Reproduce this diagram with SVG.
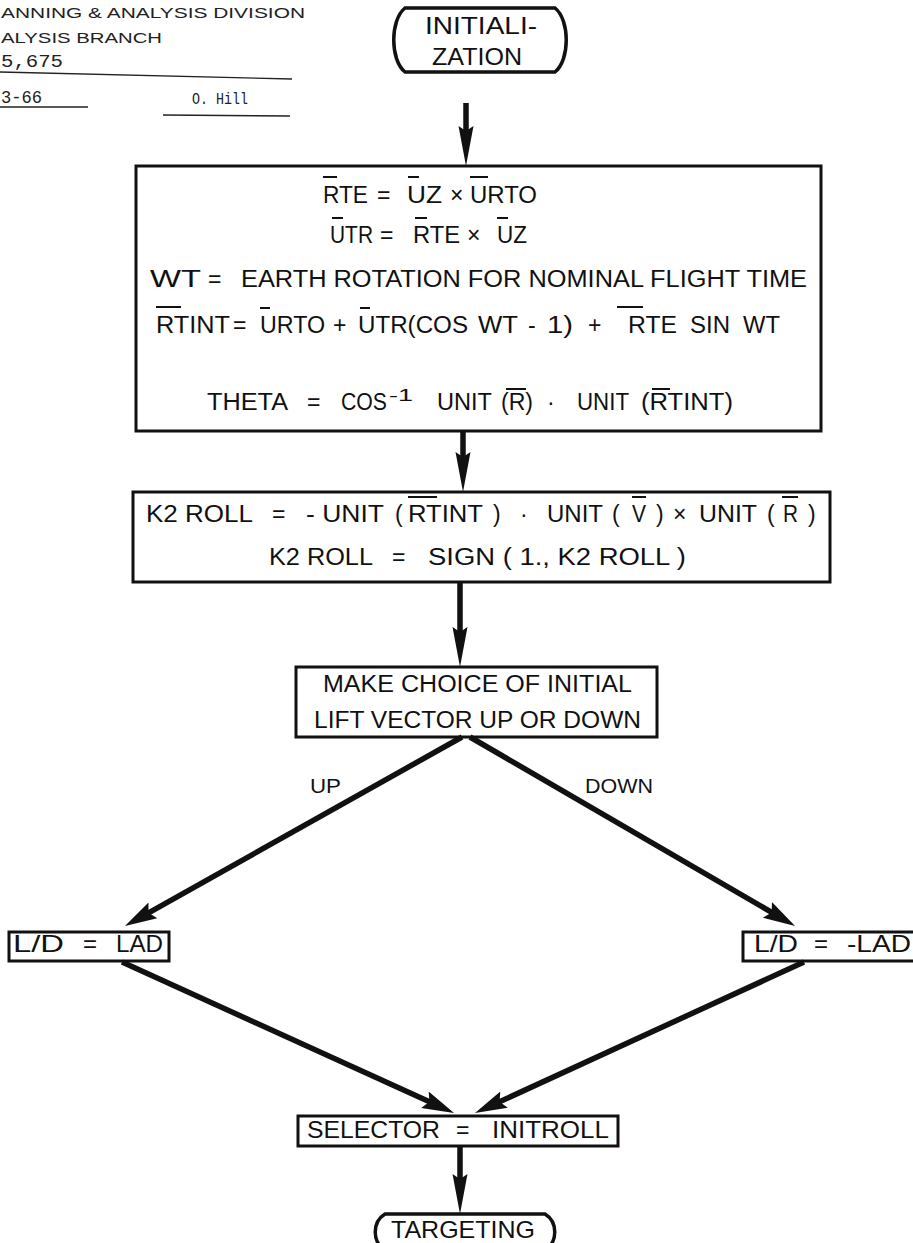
<svg xmlns="http://www.w3.org/2000/svg" width="913" height="1243" viewBox="0 0 913 1243">
<style>
  .t { font-family: "Liberation Sans", Arial, sans-serif; font-size: 23px; fill: #111; }
  .s { font-size: 17px; }
  .big { font-size: 24px; }
  .hd { font-family: "Liberation Sans", Arial, sans-serif; font-size: 15px; fill: #222; }
  .tw { font-family: "Liberation Mono", "Courier New", monospace; font-size: 19px; fill: #222; }
  .box { fill: none; stroke: #111; stroke-width: 3; }
  .term { fill: none; stroke: #111; stroke-width: 3.5; }
  .ob { stroke: #111; stroke-width: 2; }
  .ul { stroke: #222; stroke-width: 1.4; }
  .ar { stroke: #111; stroke-width: 5.5; fill: none; }
</style>
<defs>
  <marker id="ahv" markerUnits="userSpaceOnUse" markerWidth="42" markerHeight="20" viewBox="0 0 42 20" refX="10" refY="10" orient="auto">
    <path d="M0,2.5 L40,10 L0,17.5 L5,10 Z" fill="#111"/>
  </marker>
  <marker id="ahd" markerUnits="userSpaceOnUse" markerWidth="34" markerHeight="22" viewBox="0 0 34 22" refX="8" refY="11" orient="auto">
    <path d="M0,2 L32,11 L0,20 L5,11 Z" fill="#111"/>
  </marker>
</defs>
<rect x="0" y="0" width="913" height="1243" fill="#fff"/>

<g id="header">
  <text class="hd" x="1" y="18" textLength="304" lengthAdjust="spacingAndGlyphs">ANNING &amp; ANALYSIS DIVISION</text>
  <text class="hd" x="1" y="43" textLength="161" lengthAdjust="spacingAndGlyphs">ALYSIS  BRANCH</text>
  <text class="tw" x="1" y="67" textLength="62" lengthAdjust="spacingAndGlyphs">5,675</text>
  <line class="ul" x1="0" y1="72" x2="292" y2="79"/>
  <text class="tw" x="1" y="103" textLength="41" lengthAdjust="spacingAndGlyphs">3-66</text>
  <line class="ul" x1="0" y1="107" x2="88" y2="107"/>
  <text class="tw" x="192" y="104" textLength="56" lengthAdjust="spacingAndGlyphs" style="font-size:16px">O. Hill</text>
  <line class="ul" x1="163" y1="115" x2="290" y2="116"/>
</g>

<g id="initialization">
  <path class="term" d="M405,8 L555,8 C570,20 570,60 555,72 L405,72 C390,60 390,20 405,8 Z"/>
  <text class="t big" x="425" y="34" textLength="112" lengthAdjust="spacingAndGlyphs">INITIALI-</text>
  <text class="t big" x="432" y="65" textLength="90" lengthAdjust="spacingAndGlyphs">ZATION</text>
</g>

<g id="compute">
  <rect class="box" x="136" y="166" width="685" height="265"/>
  <text class="t" x="323" y="203" textLength="45" lengthAdjust="spacingAndGlyphs">RTE</text>
  <text class="t" x="377" y="203">=</text>
  <text class="t" x="407" y="203" textLength="35" lengthAdjust="spacingAndGlyphs">UZ</text>
  <text class="t" x="450" y="203">×</text>
  <text class="t" x="470" y="203" textLength="67" lengthAdjust="spacingAndGlyphs">URTO</text>
  <line class="ob" x1="323" y1="177" x2="337" y2="177"/>
  <line class="ob" x1="408" y1="177" x2="419" y2="177"/>
  <line class="ob" x1="470" y1="177" x2="488" y2="177"/>

  <text class="t" x="330" y="243" textLength="43" lengthAdjust="spacingAndGlyphs">UTR</text>
  <text class="t" x="380" y="243">=</text>
  <text class="t" x="413" y="243" textLength="47" lengthAdjust="spacingAndGlyphs">RTE</text>
  <text class="t" x="467" y="243">×</text>
  <text class="t" x="497" y="243" textLength="30" lengthAdjust="spacingAndGlyphs">UZ</text>
  <line class="ob" x1="332" y1="218" x2="343" y2="218"/>
  <line class="ob" x1="415" y1="218" x2="427" y2="218"/>
  <line class="ob" x1="497" y1="218" x2="508" y2="218"/>

  <text class="t" x="150" y="287" textLength="51" lengthAdjust="spacingAndGlyphs">WT</text>
  <text class="t" x="208" y="287">=</text>
  <text class="t" x="241" y="287" textLength="566" lengthAdjust="spacingAndGlyphs">EARTH ROTATION FOR NOMINAL FLIGHT TIME</text>

  <text class="t" x="156" y="333" textLength="74" lengthAdjust="spacingAndGlyphs">RTINT</text>
  <text class="t" x="233" y="333">=</text>
  <text class="t" x="260" y="333" textLength="65" lengthAdjust="spacingAndGlyphs">URTO</text>
  <text class="t" x="333" y="333">+</text>
  <text class="t" x="358" y="333" textLength="110" lengthAdjust="spacingAndGlyphs">UTR(COS</text>
  <text class="t" x="478" y="333" textLength="40" lengthAdjust="spacingAndGlyphs">WT</text>
  <text class="t" x="528" y="333">-</text>
  <text class="t" x="547" y="333" textLength="26" lengthAdjust="spacingAndGlyphs">1)</text>
  <text class="t" x="588" y="333">+</text>
  <text class="t" x="628" y="333" textLength="49" lengthAdjust="spacingAndGlyphs">RTE</text>
  <text class="t" x="690" y="333" textLength="40" lengthAdjust="spacingAndGlyphs">SIN</text>
  <text class="t" x="743" y="333" textLength="37" lengthAdjust="spacingAndGlyphs">WT</text>
  <line class="ob" x1="156" y1="307" x2="181" y2="307"/>
  <line class="ob" x1="260" y1="308" x2="270" y2="308"/>
  <line class="ob" x1="360" y1="308" x2="370" y2="308"/>
  <line class="ob" x1="617" y1="307" x2="643" y2="307"/>

  <text class="t" x="207" y="410" textLength="81" lengthAdjust="spacingAndGlyphs">THETA</text>
  <text class="t" x="307" y="410">=</text>
  <text class="t" x="341" y="410" textLength="46" lengthAdjust="spacingAndGlyphs">COS</text>
  <text class="t s" x="389" y="401" textLength="24" lengthAdjust="spacingAndGlyphs">-1</text>
  <text class="t" x="437" y="410" textLength="55" lengthAdjust="spacingAndGlyphs">UNIT</text>
  <text class="t" x="501" y="410" textLength="32" lengthAdjust="spacingAndGlyphs">(R)</text>
  <text class="t" x="547" y="410">·</text>
  <text class="t" x="577" y="410" textLength="52" lengthAdjust="spacingAndGlyphs">UNIT</text>
  <text class="t" x="641" y="410" textLength="92" lengthAdjust="spacingAndGlyphs">(RTINT)</text>
  <line class="ob" x1="506" y1="389" x2="526" y2="389"/>
  <line class="ob" x1="652" y1="389" x2="670" y2="389"/>
</g>

<g id="k2roll">
  <rect class="box" x="133" y="492" width="697" height="90"/>
  <text class="t" x="146" y="522" textLength="107" lengthAdjust="spacingAndGlyphs">K2 ROLL</text>
  <text class="t" x="272" y="522">=</text>
  <text class="t" x="306" y="522" textLength="78" lengthAdjust="spacingAndGlyphs">- UNIT</text>
  <text class="t" x="395" y="522">(</text>
  <text class="t" x="408" y="522" textLength="75" lengthAdjust="spacingAndGlyphs">RTINT</text>
  <text class="t" x="493" y="522">)</text>
  <text class="t" x="520" y="522">·</text>
  <text class="t" x="547" y="522" textLength="56" lengthAdjust="spacingAndGlyphs">UNIT</text>
  <text class="t" x="612" y="522">(</text>
  <text class="t" x="632" y="522" textLength="14" lengthAdjust="spacingAndGlyphs">V</text>
  <text class="t" x="656" y="522">)</text>
  <text class="t" x="673" y="522">×</text>
  <text class="t" x="699" y="522" textLength="58" lengthAdjust="spacingAndGlyphs">UNIT</text>
  <text class="t" x="767" y="522">(</text>
  <text class="t" x="783" y="522" textLength="15" lengthAdjust="spacingAndGlyphs">R</text>
  <text class="t" x="808" y="522">)</text>
  <line class="ob" x1="408" y1="497" x2="437" y2="497"/>
  <line class="ob" x1="632" y1="497" x2="646" y2="497"/>
  <line class="ob" x1="782" y1="497" x2="798" y2="497"/>

  <text class="t" x="269" y="565" textLength="104" lengthAdjust="spacingAndGlyphs">K2 ROLL</text>
  <text class="t" x="392" y="565">=</text>
  <text class="t" x="428" y="565" textLength="258" lengthAdjust="spacingAndGlyphs">SIGN ( 1., K2 ROLL )</text>
</g>

<g id="choice">
  <rect class="box" x="296" y="667" width="361" height="70"/>
  <text class="t" x="323" y="692" textLength="309" lengthAdjust="spacingAndGlyphs">MAKE CHOICE OF INITIAL</text>
  <text class="t" x="314" y="728" textLength="327" lengthAdjust="spacingAndGlyphs">LIFT VECTOR UP OR DOWN</text>
</g>

<g id="lad">
  <rect class="box" x="9" y="932" width="160" height="29"/>
  <text class="t big" x="13" y="952" textLength="51" lengthAdjust="spacingAndGlyphs">L/D</text>
  <text class="t big" x="83" y="952">=</text>
  <text class="t big" x="116" y="952" textLength="47" lengthAdjust="spacingAndGlyphs">LAD</text>
</g>

<g id="neglad">
  <rect class="box" x="743" y="932" width="180" height="29"/>
  <text class="t big" x="754" y="952" textLength="44" lengthAdjust="spacingAndGlyphs">L/D</text>
  <text class="t big" x="814" y="952">=</text>
  <text class="t big" x="847" y="952" textLength="64" lengthAdjust="spacingAndGlyphs">-LAD</text>
</g>

<g id="selector">
  <rect class="box" x="298" y="1116" width="320" height="30"/>
  <text class="t" x="307" y="1138" textLength="133" lengthAdjust="spacingAndGlyphs">SELECTOR</text>
  <text class="t" x="456" y="1138">=</text>
  <text class="t" x="492" y="1138" textLength="117" lengthAdjust="spacingAndGlyphs">INITROLL</text>
</g>

<g id="targeting">
  <path class="term" d="M385,1214 L545,1214 C558,1222 558,1242 545,1250 L385,1250 C372,1242 372,1222 385,1214 Z"/>
  <text class="t" x="391" y="1238" textLength="144" lengthAdjust="spacingAndGlyphs" style="font-size:24px">TARGETING</text>
</g>

<g id="connectors">
  <line class="ar" x1="466" y1="103" x2="466" y2="136" marker-end="url(#ahv)"/>
  <line class="ar" x1="463" y1="431" x2="463" y2="462" marker-end="url(#ahv)"/>
  <line class="ar" x1="460" y1="582" x2="460" y2="637" marker-end="url(#ahv)"/>
  <line class="ar" x1="460" y1="1146" x2="460" y2="1184" marker-end="url(#ahv)"/>
  <line class="ar" x1="462" y1="737" x2="145.9" y2="914.3" marker-end="url(#ahd)"/>
  <line class="ar" x1="470" y1="737" x2="774.3" y2="913.9" marker-end="url(#ahd)"/>
  <line class="ar" x1="122" y1="962" x2="432.2" y2="1103.1" marker-end="url(#ahd)"/>
  <line class="ar" x1="804" y1="962" x2="496.8" y2="1103" marker-end="url(#ahd)"/>
  <text class="t" x="310" y="793" textLength="31" lengthAdjust="spacingAndGlyphs" style="font-size:20px">UP</text>
  <text class="t" x="585" y="793" textLength="68" lengthAdjust="spacingAndGlyphs" style="font-size:20px">DOWN</text>
</g>
</svg>
